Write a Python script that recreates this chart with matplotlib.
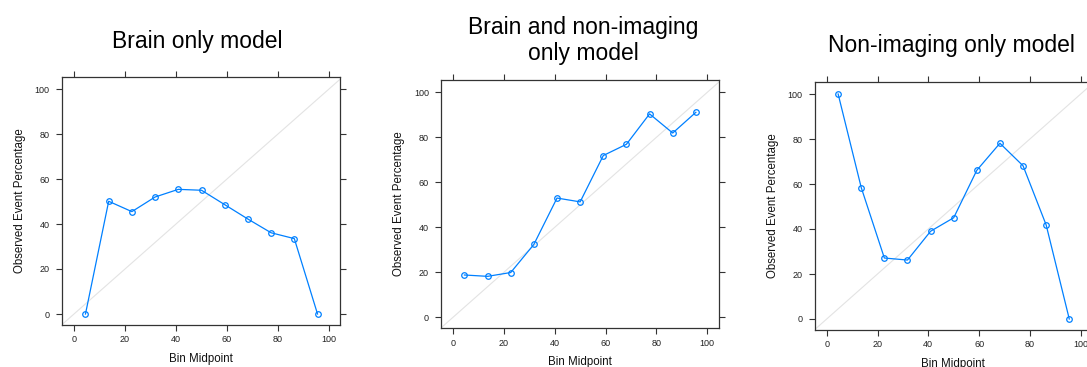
import matplotlib
matplotlib.use("Agg")
import matplotlib.pyplot as plt
import numpy as np

plt.rcParams['font.family'] = ['Liberation Sans', 'DejaVu Sans']

# bin midpoints (11 bins of width 100/11)
bin_mid = [4.5, 13.6, 22.7, 31.8, 40.9, 50.0, 59.1, 68.2, 77.3, 86.4, 95.5]

brain_only = [0, 50.1, 45.5, 52.0, 55.4, 55.0, 48.6, 42.2, 36.1, 33.5, 0]
brain_nonimg = [18.8, 18.2, 19.9, 32.4, 53.0, 51.3, 71.9, 76.9, 90.4, 81.9, 91.1]
nonimg_only = [100, 58.4, 27.1, 26.2, 39.0, 45.0, 66.1, 78.1, 68.1, 41.8, 0]

titles = ["Brain only model", "Brain and non-imaging\nonly model", "Non-imaging only model"]
series = [brain_only, brain_nonimg, nonimg_only]
ticks = [0, 20, 40, 60, 80, 100]

W, H = 1087, 367
fig = plt.figure(figsize=(W / 100, H / 100), dpi=100)

# pixel location of x=0, x=100, y=0, y=100 for each panel
panels = [
    (74, 329, 314, 89),
    (453, 707.3, 317.3, 92.3),
    (826.7, 1080.7, 319, 94),
]
xlim = (-4.8, 104.5)
ylim = (-4.9, 105.5)
# title anchors (x center, baseline y) in pixels
title_pos = [(197, 48), (583, 34), (951, 51.7)]

frame_col = '#333333'
for (x0, x100, y0, y100), ys, title, tpos in zip(panels, series, titles, title_pos):
    sx = (x100 - x0) / 100
    sy = (y0 - y100) / 100
    left = x0 + xlim[0] * sx
    right = x0 + xlim[1] * sx
    top = y0 - ylim[1] * sy
    bottom = y0 - ylim[0] * sy
    ax = fig.add_axes([left / W, 1 - bottom / H, (right - left) / W, (bottom - top) / H])
    ax.set_xlim(xlim)
    ax.set_ylim(ylim)

    ax.axline((0, 0), slope=1, color='#e3e3e3', lw=0.8, zorder=1)
    ax.plot(bin_mid, ys, color='#0080ff', lw=0.9, marker='o', markersize=4,
            markerfacecolor='none', markeredgewidth=0.9, zorder=3)

    ax.set_xticks(ticks)
    ax.set_yticks(ticks)
    ax.tick_params(direction='out', length=4.3, width=0.8, color=frame_col,
                   labelsize=6.5, labelcolor='#222222',
                   top=True, right=True, labeltop=False, labelright=False)
    ax.tick_params(axis='x', pad=3.2)
    ax.tick_params(axis='y', pad=4.3)
    for sp in ax.spines.values():
        sp.set_color(frame_col)
        sp.set_linewidth(0.9)

    ax.set_xlabel("Bin Midpoint", fontsize=8.3, va='center', color='#111111')
    ax.set_ylabel("Observed Event Percentage", fontsize=8.3, va='center', color='#111111')
    wpx = right - left
    hpx = bottom - top
    ax.xaxis.set_label_coords(0.5, -34 / hpx)
    ax.yaxis.set_label_coords(-42 / wpx, 0.5)

    if "\n" in title:
        l1, l2 = title.split("\n")
        fig.text(tpos[0] / W, 1 - tpos[1] / H, l1, ha='center', va='baseline', fontsize=16.5)
        fig.text(tpos[0] / W, 1 - (tpos[1] + 26) / H, l2, ha='center', va='baseline', fontsize=16.5)
    else:
        fig.text(tpos[0] / W, 1 - tpos[1] / H, title, ha='center', va='baseline', fontsize=16.5)

fig.savefig("out.png", dpi=100)
